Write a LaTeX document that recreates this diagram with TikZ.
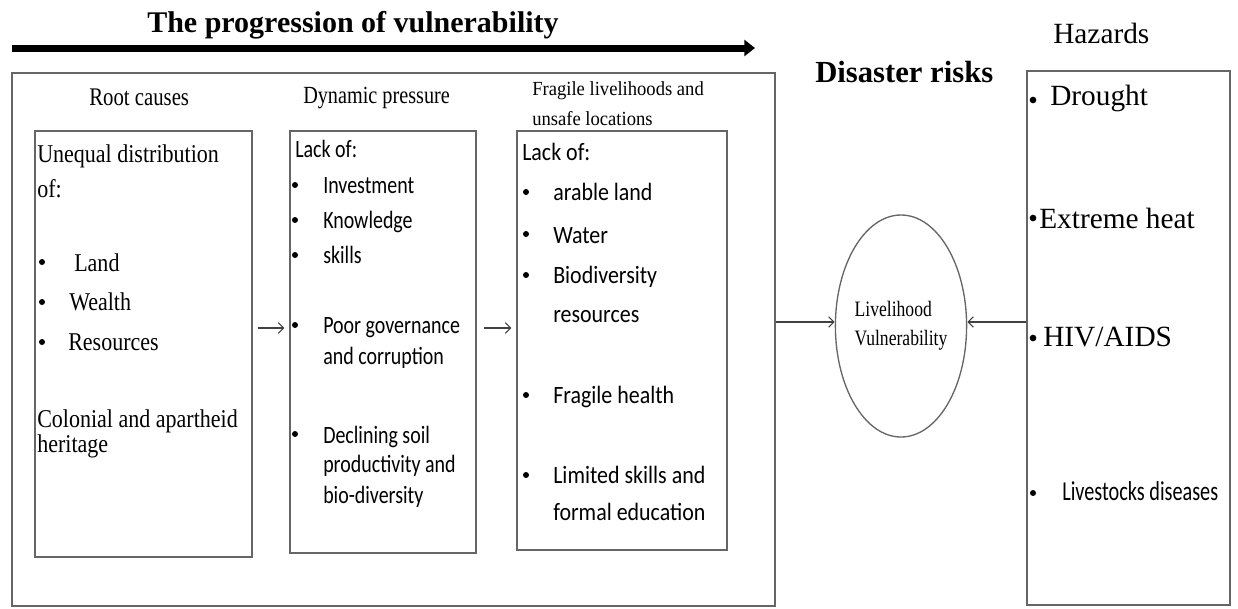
\documentclass[tikz,border=0pt]{standalone}
\usepackage{fontspec}
\setmainfont{Liberation Serif}
\newfontfamily\calibri{Carlito}
\newfontfamily\serifR[FakeStretch=0.86]{Liberation Serif}
\newfontfamily\serifH[FakeStretch=0.82]{Liberation Serif}
\newfontfamily\serifF[FakeStretch=0.93]{Liberation Serif}
\newfontfamily\serifE[FakeStretch=0.8]{Liberation Serif}
\newfontfamily\calD[FakeStretch=0.8]{Carlito}
\newfontfamily\calF[FakeStretch=0.88]{Carlito}
\newfontfamily\calL[FakeStretch=0.74]{Carlito}
\usetikzlibrary{arrows.meta,shapes.geometric}
\begin{document}
\begin{tikzpicture}[x=0.75pt,y=-0.75pt,
  box/.style={draw=black!60, line width=1pt, rectangle, inner sep=0pt},
  lbl/.style={anchor=base west, inner sep=0pt},
  dot/.style={circle, fill=black, inner sep=0pt, minimum size=4.5pt},
  bigdot/.style={circle, fill=black, inner sep=0pt, minimum size=5pt},
  arr/.style={draw=black!75, line width=0.8pt, -{Straight Barb[length=4pt,width=8pt]}},
  serifA/.style={font=\serifR\fontsize{19.2}{22}\selectfont},
  sansA/.style={font=\calD\fontsize{18.7}{22}\selectfont},
  sansB/.style={font=\calF\fontsize{18.7}{22}\selectfont},
  hazf/.style={font=\fontsize{22}{26}\selectfont},
]
\useasboundingbox (0,0) rectangle (1238,608);

% title and progression arrow
\node[lbl, font=\fontsize{22.5}{27}\selectfont\bfseries] (title) at (147,32) {The progression of vulnerability};
\coordinate (pa) at (12,48);
\coordinate (pb) at (755,48);
\draw[line width=5.25pt, -{Triangle[length=8pt,width=12pt]}] (pa) -- (pb);

% boxes
\node[box, minimum width=572.25pt, minimum height=399.75pt] (outer) at (393.5,339.5) {};
\node[box, minimum width=162.75pt, minimum height=319.5pt] (root) at (143.5,344) {};
\node[box, minimum width=139.5pt, minimum height=316.5pt] (dyn) at (383,342) {};
\node[box, minimum width=157.5pt, minimum height=314.25pt] (frag) at (622,340.5) {};
\node[box, minimum width=152.25pt, minimum height=400.5pt] (haz) at (1128.5,338) {};
\node[draw=black!60, line width=1pt, ellipse, inner sep=0pt, minimum width=94.5pt, minimum height=166.5pt,
      align=left, font=\serifE\fontsize{16.5}{21.75}\selectfont] (ell) at (901,326) {Livelihood\\Vulnerability};

% headers
\node[lbl, font=\serifH\fontsize{19}{22}\selectfont] (hroot) at (89,105) {Root causes};
\node[lbl, font=\serifH\fontsize{18.5}{22}\selectfont] (hdyn) at (303,103) {Dynamic pressure};
\node[lbl, font=\serifF\fontsize{15}{18}\selectfont] (hfrag1) at (532,95) {Fragile livelihoods and};
\node[lbl, font=\serifF\fontsize{15}{18}\selectfont] (hfrag2) at (532,125) {unsafe locations};
\node[lbl, font=\fontsize{23}{27}\selectfont\bfseries] (hdis) at (815,82) {Disaster risks};
\node[lbl, hazf] (hhaz) at (1053,43) {Hazards};

% root causes
\node[lbl, serifA] (r1) at (37,162) {Unequal distribution};
\node[lbl, serifA] (r2) at (37,197) {of:};
\node[dot] (rb1) at (42,262) {};
\node[lbl, serifA] (r3) at (74,271) {Land};
\node[dot] (rb2) at (42,302) {};
\node[lbl, serifA] (r4) at (69,310) {Wealth};
\node[dot] (rb3) at (42,342) {};
\node[lbl, serifA] (r5) at (68,350) {Resources};
\node[lbl, serifA] (r6) at (37,427) {Colonial and apartheid};
\node[lbl, serifA] (r7) at (37,452) {heritage};

% dynamic pressure
\node[lbl, sansA] (d0) at (295,157) {Lack of:};
\node[dot] (db1) at (295,185) {};
\node[lbl, sansA] (d1) at (323,193) {Investment};
\node[dot] (db2) at (295,220) {};
\node[lbl, sansA] (d2) at (323,228) {Knowledge};
\node[dot] (db3) at (295,255) {};
\node[lbl, sansA] (d3) at (323,263) {skills};
\node[dot] (db4) at (295,325) {};
\node[lbl, sansA] (d4) at (323,333) {Poor governance};
\node[lbl, sansA] (d5) at (323,364) {and corruption};
\node[dot] (db5) at (295,434) {};
\node[lbl, sansA] (d6) at (323,443) {Declining soil};
\node[lbl, sansA] (d7) at (323,472) {productivity and};
\node[lbl, sansA] (d8) at (323,503) {bio-diversity};

% fragile livelihoods
\node[lbl, sansB] (f0) at (522,160) {Lack of:};
\node[dot] (fb1) at (526,192) {};
\node[lbl, sansB] (f1) at (553,200) {arable land};
\node[dot] (fb2) at (526,234) {};
\node[lbl, sansB] (f2) at (553,243) {Water};
\node[dot] (fb3) at (526,275) {};
\node[lbl, sansB] (f3) at (553,283) {Biodiversity};
\node[lbl, sansB] (f4) at (553,322) {resources};
\node[dot] (fb4) at (526,395) {};
\node[lbl, sansB] (f5) at (553,403) {Fragile health};
\node[dot] (fb5) at (526,475) {};
\node[lbl, sansB] (f6) at (553,483) {Limited skills and};
\node[lbl, sansB] (f7) at (553,520) {formal education};

% hazards
\node[bigdot] (hb1) at (1033,100) {};
\node[lbl, hazf] (h1) at (1050,105) {Drought};
\node[bigdot] (hb2) at (1033,218) {};
\node[lbl, hazf] (h2) at (1039,228) {Extreme heat};
\node[bigdot] (hb3) at (1033,338) {};
\node[lbl, hazf] (h3) at (1043,346) {HIV/AIDS};
\node[dot] (hb4) at (1033,493) {};
\node[lbl, font=\calL\fontsize{20.5}{24}\selectfont] (h4) at (1062,500) {Livestocks diseases};

% connectors
\draw[arr, shorten <=3.75pt, shorten >=3.75pt] ([yshift=12pt]root.east) -- ([yshift=12pt]root.east -| dyn.west);
\draw[arr, shorten <=5.25pt, shorten >=3.75pt] ([yshift=10.5pt]dyn.east) -- ([yshift=10.5pt]dyn.east -| frag.west);
\draw[arr] ([yshift=3pt]ell.west -| outer.east) -- ([yshift=3pt]ell.west);
\draw[arr] ([yshift=3pt]ell.east -| haz.west) -- ([yshift=3pt]ell.east);
\end{tikzpicture}
\end{document}
